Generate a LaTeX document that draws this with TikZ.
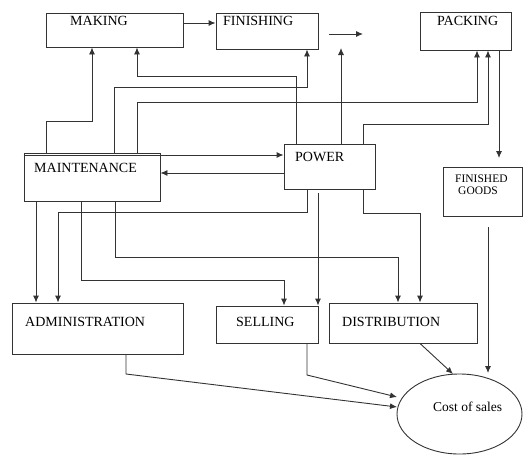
\documentclass[tikz,border=0pt]{standalone}
\usepackage{fontspec}
\setmainfont{Liberation Serif}
\usetikzlibrary{shapes.geometric,arrows.meta}
\begin{document}
\begin{tikzpicture}[x=1pt,y=-1pt,
  box/.style={draw=black!80,line width=0.9pt,rectangle,inner sep=0pt},
  lbl/.style={anchor=base west,inner sep=0pt,font=\fontsize{14}{16}\selectfont},
  small/.style={anchor=base west,inner sep=0pt,font=\fontsize{11.5}{13}\selectfont},
  arr/.style={draw=black!80,line width=0.9pt,-{Latex[length=7pt,width=6pt]}},
  ln/.style={draw=black!80,line width=0.9pt}]
\useasboundingbox (0,0) rectangle (532,463);
% boxes
\node[box,minimum width=137pt,minimum height=34pt] (making) at (114.5,30) {};
\node[box,minimum width=102pt,minimum height=36pt] (finishing) at (267,31) {};
\node[box,minimum width=91pt,minimum height=38pt] (packing) at (465.5,31) {};
\node[box,minimum width=136pt,minimum height=48pt] (maint) at (92,177) {};
\node[box,minimum width=91pt,minimum height=45pt] (power) at (329.5,166.5) {};
\node[box,minimum width=79pt,minimum height=49pt] (fgoods) at (482.5,191.5) {};
\node[box,minimum width=171pt,minimum height=51pt] (admin) at (97.5,328.5) {};
\node[box,minimum width=102pt,minimum height=37pt] (selling) at (267,324.5) {};
\node[box,minimum width=148pt,minimum height=40pt] (distrib) at (403,323) {};
\node[box,ellipse,minimum width=125pt,minimum height=80pt] (cost) at (459.5,414) {};
% labels
\node[lbl] (tmaking) at (70,25) {MAKING};
\node[lbl] (tfinishing) at (223,25) {FINISHING};
\node[lbl] (tpacking) at (437,25) {PACKING};
\node[lbl] (tmaint) at (34,172) {MAINTENANCE};
\node[lbl] (tpower) at (295,161) {POWER};
\node[small] (tfin) at (455,182) {FINISHED};
\node[small] (tgoods) at (458,194) {GOODS};
\node[lbl] (tadmin) at (25,326) {ADMINISTRATION};
\node[lbl] (tselling) at (236,326) {SELLING};
\node[lbl] (tdistrib) at (342,326) {DISTRIBUTION};
\node[lbl,font=\fontsize{13.5}{15}\selectfont] (tcost) at (433,411) {Cost of sales};
% free ends
\coordinate (fa1) at (329,34);
\coordinate (fa2) at (363,34);
\coordinate (pw) at (341,48);
\coordinate (fg) at (499,158);
\coordinate (fgc) at (488,373);
\coordinate (dc) at (453,374);
\coordinate (sc) at (397,397);
\coordinate (ac) at (397,407);
% connectors
\draw[arr] (making.east |- 0,23) -- (finishing.west |- 0,23);
\draw[arr] (fa1) -- (fa2);
\draw[arr] (46,0 |- maint.north) |- (92,121) -- (92,0 |- making.south);
\draw[arr] (296,0 |- power.north) |- (137,76) -- (137,0 |- making.south);
\draw[arr] (114,0 |- maint.north) |- (307,87) -- (307,0 |- finishing.south);
\draw[arr] (137,0 |- maint.north) |- (477,102) -- (477,0 |- packing.south);
\draw[arr] (341,0 |- power.north) -- (pw);
\draw[arr] (363,0 |- power.north) |- (488,124) -- (488,0 |- packing.south);
\draw[arr] (499,0 |- packing.south) -- (fg);
\draw[arr] (maint.west |- 0,155) -- (power.west |- 0,155);
\draw[arr] (power.west |- 0,173) -- (maint.east |- 0,173);
\draw[arr] (36,0 |- maint.south) -- (36,0 |- admin.north);
\draw[arr] (307,0 |- power.south) |- (58,212) -- (58,0 |- admin.north);
\draw[arr] (81,0 |- maint.south) |- (284,280) -- (284,0 |- selling.north);
\draw[arr] (115,0 |- maint.south) |- (398,257) -- (398,0 |- distrib.north);
\draw[arr,shorten <=4pt] (318,0 |- power.south) -- (318,0 |- selling.north);
\draw[arr] (363,0 |- power.south) |- (420,213) -- (420,0 |- distrib.north);
\draw[arr,shorten <=11pt] (488,0 |- fgoods.south) -- (fgc);
\draw[arr] (420,0 |- distrib.south) -- (dc);
\draw[arr] (307,0 |- selling.south) -- (307,375) -- (sc);
\draw[arr] (126,0 |- admin.south) -- (126,374) -- (ac);
\end{tikzpicture}
\end{document}
